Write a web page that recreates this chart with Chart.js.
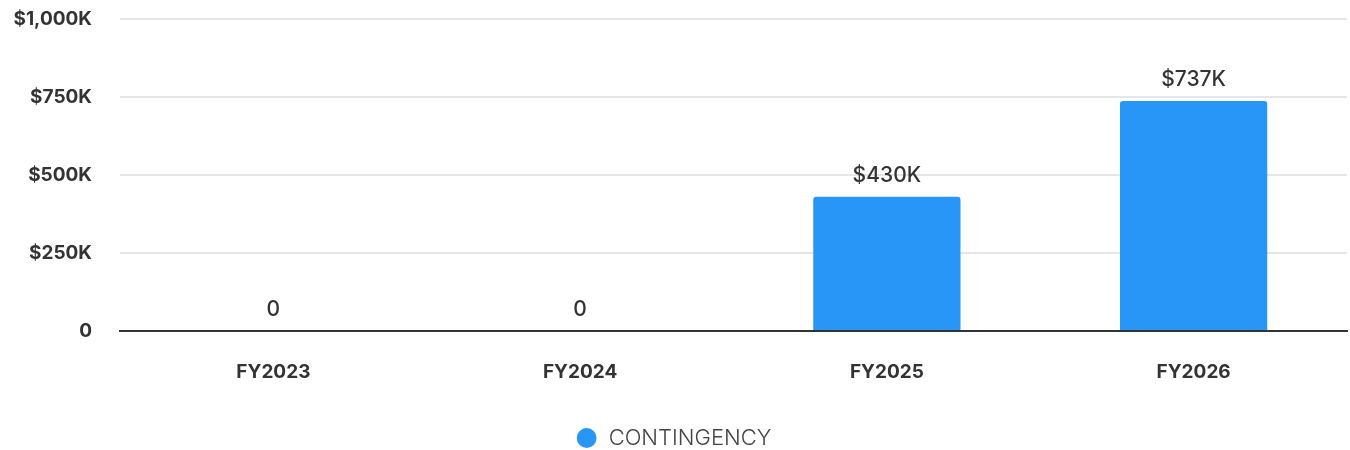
<!DOCTYPE html>
<html>
<head>
<meta charset="utf-8">
<script src="https://cdn.jsdelivr.net/npm/chart.js@4/dist/chart.umd.min.js"></script>
<style>
  html, body { margin: 0; padding: 0; background: #fff; }
  #wrap { width: 1350px; height: 450px; }
</style>
</head>
<body>
<div id="wrap"><canvas id="chart" width="1350" height="450"></canvas></div>
<script>
const categories = ['FY2023', 'FY2024', 'FY2025', 'FY2026'];
const contingency = [0, 0, 430000, 737000];
const yTicks = [0, 250000, 500000, 750000, 1000000];
const seriesName = 'CONTINGENCY';

const FONT = "Inter, 'Open Sans', sans-serif";

function money(v) {
    if (v === 0) return '0';
    return '$' + Math.round(v / 1000).toLocaleString('en-US') + 'K';
}

// labels above each bar
const valueLabels = {
    id: 'valueLabels',
    afterDatasetsDraw(chart) {
        const ctx = chart.ctx;
        const meta = chart.getDatasetMeta(0);
        ctx.save();
        ctx.font = '500 21px ' + FONT;
        ctx.fillStyle = '#333';
        ctx.textAlign = 'center';
        ctx.textBaseline = 'alphabetic';
        meta.data.forEach((bar, i) => {
            ctx.fillText(money(contingency[i]), bar.x, bar.y - 15);
        });
        ctx.restore();
    }
};

new Chart(document.getElementById('chart'), {
    type: 'bar',
    data: {
        labels: categories,
        datasets: [{
            label: seriesName,
            data: contingency,
            backgroundColor: '#2896f7',
            borderRadius: { topLeft: 3, topRight: 3 },
            borderSkipped: 'start',
            categoryPercentage: 0.8,
            barPercentage: 0.6
        }]
    },
    options: {
        responsive: false,
        animation: false,
        layout: { padding: { top: 0, right: 3, bottom: -9, left: 0 } },
        plugins: {
            legend: {
                position: 'bottom',
                labels: {
                    usePointStyle: true,
                    pointStyle: 'circle',
                    boxWidth: 22,
                    boxHeight: 14,
                    padding: 0,
                    color: '#444',
                    font: { family: FONT, size: 22, weight: '300' }
                }
            },
            tooltip: { enabled: false }
        },
        scales: {
            x: {
                grid: { display: false, drawTicks: false },
                border: { display: true, color: '#333', width: 2 },
                afterFit: s => { s.height = 96; },
                ticks: {
                    padding: 30,
                    color: '#333',
                    font: { family: FONT, size: 19, weight: 'bold' }
                }
            },
            y: {
                min: yTicks[0],
                max: yTicks[yTicks.length - 1],
                afterBuildTicks: s => { s.ticks = yTicks.map(v => ({ value: v })); },
                afterFit: s => { s.width = 120; s.paddingTop = 19; s.paddingBottom = 0; },
                grid: { color: '#e6e6e6', lineWidth: 2, drawTicks: false },
                border: { display: false },
                ticks: {
                    padding: 28,
                    color: '#333',
                    font: { family: FONT, size: 19, weight: 'bold' },
                    callback: v => money(v)
                }
            }
        }
    },
    plugins: [valueLabels]
});
</script>
</body>
</html>
